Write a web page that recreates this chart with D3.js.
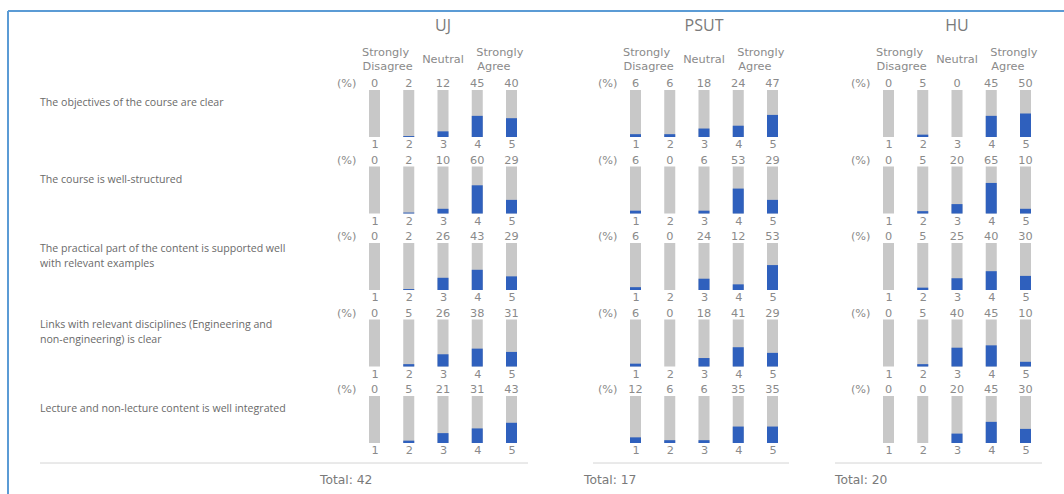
<!DOCTYPE html>
<html><head><meta charset="utf-8">
<script src="https://cdn.jsdelivr.net/npm/d3@7/dist/d3.min.js"></script>
<style>
html,body{margin:0;padding:0;background:#fff;}
svg{display:block;}
</style></head>
<body><svg id="chart" width="1064" height="494"></svg>
<script>
const groups = ["UJ", "PSUT", "HU"];
const totals = [42, 17, 20];
const scaleTicks = [1, 2, 3, 4, 5];
const questions = [
  ["The objectives of the course are clear"],
  ["The course is well-structured"],
  ["The practical part of the content is supported well", "with relevant examples"],
  ["Links with relevant disciplines (Engineering and", "non-engineering) is clear"],
  ["Lecture and non-lecture content is well integrated"]
];
const ujValues = [[0,2,12,45,40],[0,2,10,60,29],[0,2,26,43,29],[0,5,26,38,31],[0,5,21,31,43]];
const psutValues = [[6,6,18,24,47],[6,0,6,53,29],[6,0,24,12,53],[6,0,18,41,29],[12,6,6,35,35]];
const huValues = [[0,5,0,45,50],[0,5,20,65,10],[0,5,25,40,30],[0,5,40,45,10],[0,0,20,45,30]];
const allValues = [ujValues, psutValues, huValues];

const svg = d3.select("#chart");
const numFont = "'DejaVu Sans', Verdana, sans-serif";
const nfs = 11.3;
const gray = "#c8c8c8", blue = "#2f60bd", txt = "#8a8a8a";

// frame
svg.append("line").attr("x1",8).attr("x2",1064).attr("y1",11).attr("y2",11).attr("stroke","#5b9bd5").attr("stroke-width",2);
svg.append("line").attr("x1",8).attr("x2",8).attr("y1",11).attr("y2",494).attr("stroke","#5b9bd5").attr("stroke-width",2);

const groupStart = [374.5, 635.5, 888.5];
const step = 34.25;
const barW = 11;
const rowTop = 90, rowPitch = 76.5, barH = 47;
const rowScale = d3.scaleLinear().domain([0, 1]).range([rowTop, rowTop + rowPitch]);
const hScale = d3.scaleLinear().domain([0, 100]).range([0, barH]);
const lineSpans = [[40, 528], [593, 789], [835, 1042]];
const totalX = [320, 584, 835];

// question labels
questions.forEach((q, i) => {
  const cy = rowScale(i) + 12;
  const t = svg.append("text").attr("font-family","Open Sans").attr("font-size",10.6).attr("fill","#6a6a6a");
  q.forEach((line, j) => {
    t.append("tspan").attr("x",40).attr("y", cy + (j - (q.length-1)/2) * 15 + 4).text(line);
  });
});

groups.forEach((g, gi) => {
  const x = d3.scalePoint().domain(scaleTicks).range([groupStart[gi], groupStart[gi] + 4*step]);
  const G = svg.append("g");
  G.append("text").attr("x", (x(1)+x(5))/2).attr("y", 31).attr("text-anchor","middle")
    .attr("font-family","Open Sans").attr("font-size",16).attr("fill","#7a7a7a").text(g);
  // header
  const hd = G.append("text").attr("font-family",numFont).attr("font-size",nfs).attr("fill",txt);
  hd.append("tspan").attr("x", x(1)-12.5).attr("y",56).text("Strongly");
  hd.append("tspan").attr("x", x(1)-12).attr("y",70).text("Disagree");
  G.append("text").attr("font-family",numFont).attr("font-size",nfs).attr("fill",txt)
    .attr("x", x(3)).attr("y",63).attr("text-anchor","middle").text("Neutral");
  const ha = G.append("text").attr("font-family",numFont).attr("font-size",nfs).attr("fill",txt);
  ha.append("tspan").attr("x", x(4)-1).attr("y",56).text("Strongly");
  ha.append("tspan").attr("x", x(4)).attr("y",70).text("Agree");

  allValues[gi].forEach((vals, ri) => {
    const top = rowScale(ri);
    const R = G.append("g");
    R.append("text").attr("x", x(1)-18).attr("y", top-3).attr("text-anchor","end")
      .attr("font-family",numFont).attr("font-size",nfs).attr("fill",txt).text("(%)");
    R.selectAll("text.v").data(vals).join("text").attr("class","v")
      .attr("x",(d,k)=>x(scaleTicks[k])).attr("y", top-3).attr("text-anchor","middle")
      .attr("font-family",numFont).attr("font-size",nfs).attr("fill",txt).text(d=>d);
    R.selectAll("rect.bg").data(vals).join("rect").attr("class","bg")
      .attr("x",(d,k)=>x(scaleTicks[k])-barW/2).attr("y",top).attr("width",barW).attr("height",barH).attr("fill",gray);
    R.selectAll("rect.fg").data(vals).join("rect").attr("class","fg")
      .attr("x",(d,k)=>x(scaleTicks[k])-barW/2).attr("y",d=>top+barH-hScale(d)).attr("width",barW)
      .attr("height",d=>hScale(d)).attr("fill",blue);
    const ax = R.append("g").attr("transform",`translate(0,${top+barH})`)
      .call(d3.axisBottom(x).tickSize(0).tickPadding(3));
    ax.select(".domain").remove();
    ax.selectAll("text").attr("font-family",numFont).attr("font-size",nfs).attr("fill",txt);
  });

  G.append("line").attr("x1",lineSpans[gi][0]).attr("x2",lineSpans[gi][1]).attr("y1",463).attr("y2",463)
    .attr("stroke","#d4d4d4").attr("stroke-width",1);
  G.append("text").attr("x", totalX[gi]).attr("y",484).attr("font-family",numFont).attr("font-size",12.3)
    .attr("fill","#7a7a7a").text("Total: " + totals[gi]);
});
</script></body></html>
